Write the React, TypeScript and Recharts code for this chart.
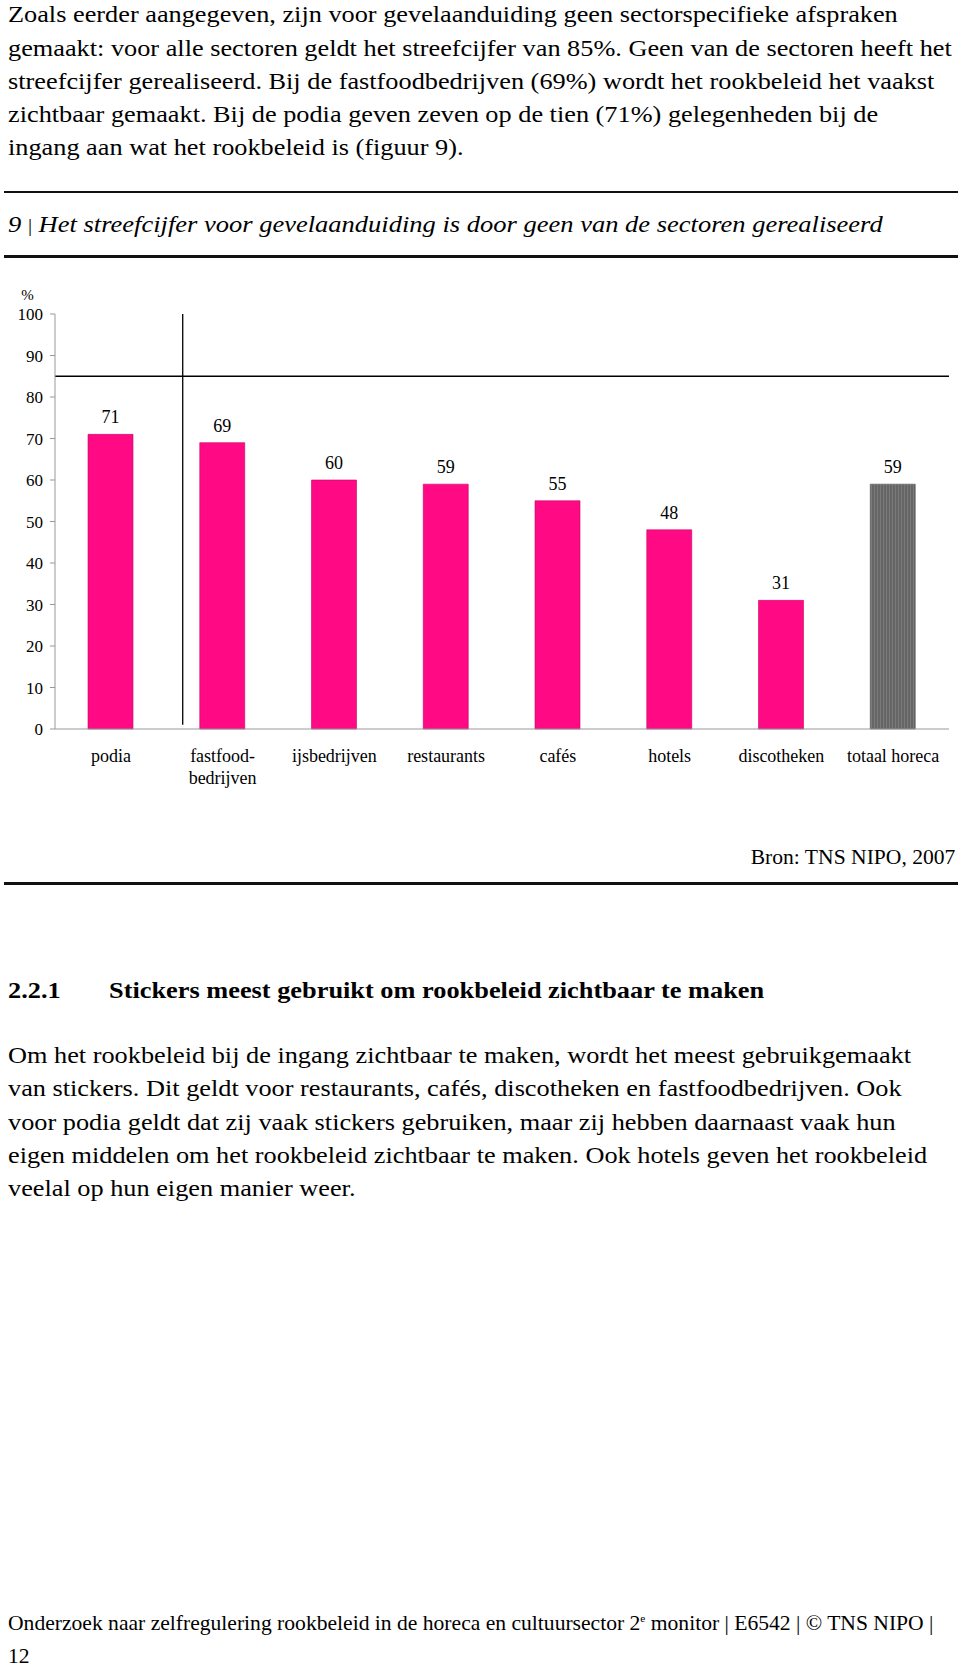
import React from 'react';
import { BarChart, Bar, XAxis, YAxis, ReferenceLine, LabelList, Cell } from 'recharts';

const categories = ['podia', 'fastfood-\nbedrijven', 'ijsbedrijven', 'restaurants', 'cafés', 'hotels', 'discotheken', 'totaal horeca'];
const values = [71, 69, 60, 59, 55, 48, 31, 59];
const yTicks = [0, 10, 20, 30, 40, 50, 60, 70, 80, 90, 100];
const targetValue = 85;
const dividerAt = 1;
const totalIndex = 7;

const para1 = [
  'Zoals eerder aangegeven, zijn voor gevelaanduiding geen sectorspecifieke afspraken',
  'gemaakt: voor alle sectoren geldt het streefcijfer van 85%. Geen van de sectoren heeft het',
  'streefcijfer gerealiseerd. Bij de fastfoodbedrijven (69%) wordt het rookbeleid het vaakst',
  'zichtbaar gemaakt. Bij de podia geven zeven op de tien (71%) gelegenheden bij de',
  'ingang aan wat het rookbeleid is (figuur 9).',
];
const para2 = [
  'Om het rookbeleid bij de ingang zichtbaar te maken, wordt het meest gebruikgemaakt',
  'van stickers. Dit geldt voor restaurants, cafés, discotheken en fastfoodbedrijven. Ook',
  'voor podia geldt dat zij vaak stickers gebruiken, maar zij hebben daarnaast vaak hun',
  'eigen middelen om het rookbeleid zichtbaar te maken. Ook hotels geven het rookbeleid',
  'veelal op hun eigen manier weer.',
];

const data = categories.map((name, i) => ({ name, value: values[i] }));

const FONT = '"Liberation Serif", "Times New Roman", serif';
const PINK = '#FF0A84';
const BODY_STRETCH = 1.143;

function Line({ baseline, size, left, right, children, style = {}, sx = 1 }: any) {
  const L = Math.round(size * 1.45);
  const top = baseline - L / 2 - 0.3375 * size;
  const pos: any = right !== undefined ? { right } : { left: left === undefined ? 8 : left };
  return (
    <div
      style={{
        position: 'absolute',
        ...pos,
        top,
        fontSize: size,
        lineHeight: L + 'px',
        whiteSpace: 'nowrap',
        fontFamily: FONT,
        color: '#000',
        transform: sx !== 1 ? `scaleX(${sx})` : undefined,
        transformOrigin: right !== undefined ? 'right center' : 'left center',
        ...style,
      }}
    >
      {children}
    </div>
  );
}

function CatTick({ x, y, payload }: any) {
  const lines = String(payload.value).split('\n');
  return (
    <text x={x} y={y} textAnchor="middle" fontSize={18} fontFamily={FONT} fill="#000">
      {lines.map((l: string, i: number) => (
        <tspan key={i} x={x} dy={i === 0 ? 33 : 22}>
          {l}
        </tspan>
      ))}
    </text>
  );
}

export default function App() {
  return (
    <div style={{ position: 'absolute', left: 0, top: 0, width: 960, height: 1667, background: '#fff', overflow: 'hidden' }}>
      {para1.map((t, i) => (
        <Line key={'a' + i} baseline={22.5 + i * 33.3} size={23} sx={BODY_STRETCH}>
          {t}
        </Line>
      ))}
      <div style={{ position: 'absolute', left: 4, top: 191, width: 954, height: 2, background: '#111' }} />
      <Line baseline={231.7} size={23.5} sx={1.128} style={{ fontStyle: 'italic' }}>
        9 <span style={{ fontStyle: 'normal', fontSize: 18 }}>|</span> Het streefcijfer voor gevelaanduiding is door geen van de sectoren gerealiseerd
      </Line>
      <div style={{ position: 'absolute', left: 4, top: 255, width: 954, height: 3, background: '#111' }} />

      <div style={{ position: 'absolute', left: 0, top: 260 }}>
        <BarChart width={960} height={529} data={data} margin={{ top: 54, right: 11, bottom: 0, left: 0 }} barSize={45}>
          <defs>
            <pattern id="dots" patternUnits="userSpaceOnUse" width="3" height="3">
              <rect width="3" height="3" fill="#666666" />
              <rect x="1" y="0" width="1" height="3" fill="#7a7a7a" />
            </pattern>
          </defs>
          <XAxis
            dataKey="name"
            axisLine={{ stroke: '#999', strokeWidth: 1 }}
            tickLine={false}
            tickSize={0}
            tickMargin={0}
            height={60}
            interval={0}
            tick={<CatTick />}
          />
          <XAxis xAxisId="n" type="number" domain={[0, categories.length]} hide />
          <YAxis
            width={55}
            domain={[0, 100]}
            ticks={yTicks}
            interval={0}
            axisLine={{ stroke: '#999', strokeWidth: 1 }}
            tickLine={{ stroke: '#999' }}
            tickSize={5}
            tickMargin={7}
            tick={{ fontSize: 17, fontFamily: FONT, fill: '#000' }}
            label={{ value: '%', position: 'top', offset: 14, fontSize: 15, fontFamily: FONT, fill: '#000' }}
          />
          <ReferenceLine y={targetValue} stroke="#000" strokeWidth={1.3} />
          <ReferenceLine
            xAxisId="n"
            segment={[
              { x: dividerAt, y: 1 },
              { x: dividerAt, y: 100 },
            ]}
            stroke="#000"
            strokeWidth={1.3}
          />
          <Bar dataKey="value" isAnimationActive={false} stroke="#c8006a" strokeWidth={0.6}>
            {data.map((d, i) => (
              <Cell key={i} fill={i === totalIndex ? 'url(#dots)' : PINK} stroke={i === totalIndex ? '#555' : '#c8006a'} />
            ))}
            <LabelList dataKey="value" position="top" offset={11} fontSize={18} fontFamily={FONT} fill="#000" />
          </Bar>
        </BarChart>
      </div>

      <Line baseline={864} size={20.5} right={5} sx={1.053}>
        Bron: TNS NIPO, 2007
      </Line>
      <div style={{ position: 'absolute', left: 4, top: 882, width: 954, height: 3, background: '#111' }} />

      <Line baseline={998.3} size={23} sx={1.145} style={{ fontWeight: 'bold' }}>
        2.2.1
      </Line>
      <Line baseline={998.3} size={23} left={109} sx={1.145} style={{ fontWeight: 'bold' }}>
        Stickers meest gebruikt om rookbeleid zichtbaar te maken
      </Line>

      {para2.map((t, i) => (
        <Line key={'b' + i} baseline={1063.3 + i * 33.3} size={23} sx={BODY_STRETCH}>
          {t}
        </Line>
      ))}

      <Line baseline={1630} size={21} sx={1.028}>
        Onderzoek naar zelfregulering rookbeleid in de horeca en cultuursector 2
        <sup style={{ fontSize: 11, lineHeight: 0, verticalAlign: 'super' }}>e</sup> monitor | E6542 | © TNS NIPO |
      </Line>
      <Line baseline={1663.3} size={21} sx={1.028}>
        12
      </Line>
    </div>
  );
}
